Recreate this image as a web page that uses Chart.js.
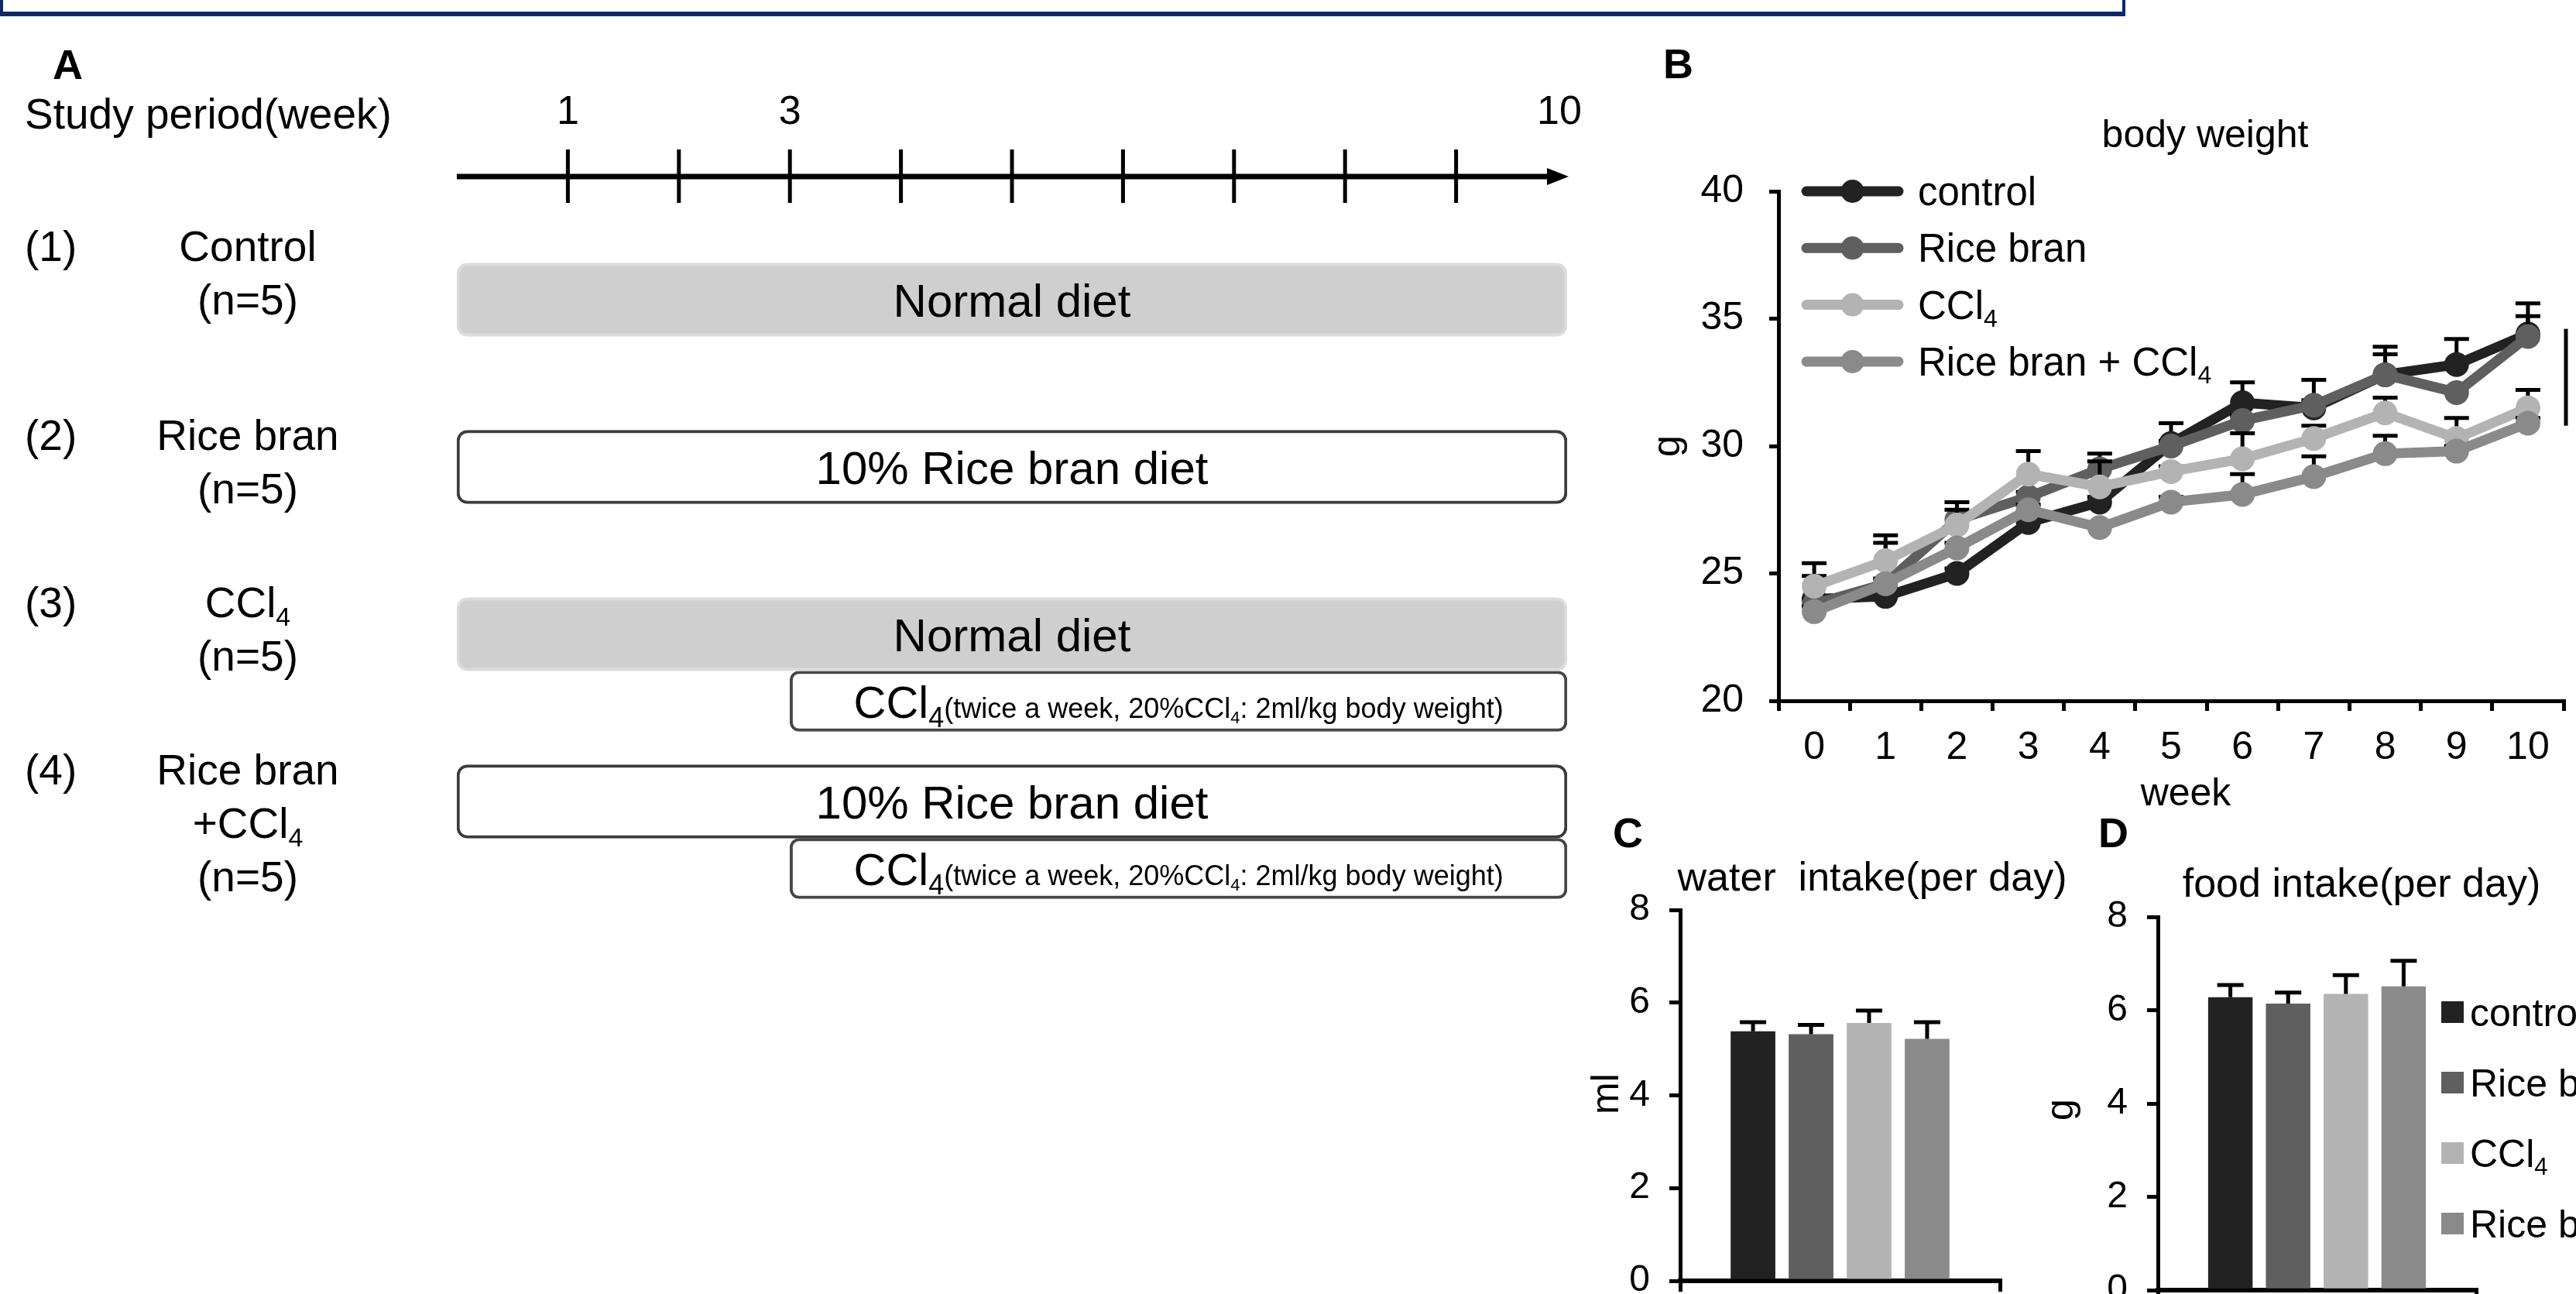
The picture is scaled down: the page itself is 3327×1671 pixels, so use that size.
<!DOCTYPE html>
<html>
<head>
<meta charset="utf-8">
<title>Study design, body weight and intake</title>
<script src="https://cdn.jsdelivr.net/npm/chart.js@4.4.1/dist/chart.umd.min.js"></script>
<style>
  html, body { margin:0; padding:0; width:3327px; height:1671px; overflow:hidden; background:#fff; }
  canvas { position:absolute; left:0; top:0; }
  #frame { position:absolute; left:0; top:-80px; width:2737px; height:91px; border:4px solid #0c2a68; border-bottom-width:6px; }
</style>
</head>
<body>
<div id="frame"></div>
<canvas id="panelA" width="3327" height="1671"></canvas>
<canvas id="panelB" width="3327" height="1671"></canvas>
<canvas id="panelC" width="3327" height="1720"></canvas>
<canvas id="panelD" width="3327" height="1720"></canvas>
<script>
const FONT = '"Liberation Sans", Arial, Helvetica, sans-serif';
Chart.defaults.font.family = FONT;

// groups, shared by B, C and D
const groups = ['control', 'Rice bran', 'CCl₄', 'Rice bran + CCl₄'];
const groupColors = ['#222222', '#5f5f5f', '#b3b3b3', '#8a8a8a'];

// A: study design (weeks)
const rowNumbers = ['(1)', '(2)', '(3)', '(4)'];
const rowNames = [['Control', '(n=5)'], ['Rice bran', '(n=5)'], ['CCl₄', '(n=5)'], ['Rice bran', '+CCl₄', '(n=5)']];
const dietLabels = ['Normal diet', '10% Rice bran diet', 'Normal diet', '10% Rice bran diet'];
const dietWeeks = [[0, 10], [0, 10], [0, 10], [0, 10]];
const ccl4Weeks = [null, null, [3, 10], [3, 10]];
const ccl4Text = 'CCl₄';
const ccl4Note = '(twice a week, 20%CCl₄: 2ml/kg body weight)';
const timelineTicks = [1, 2, 3, 4, 5, 6, 7, 8, 9];
const timelineLabelWeeks = [1, 3, 10];

// B: body weight (g)
const weeks = ['0', '1', '2', '3', '4', '5', '6', '7', '8', '9', '10'];
const bwControl      = [24.0, 24.1, 25.0, 27.0, 27.8, 30.1, 31.7, 31.5, 32.8, 33.2, 34.4];
const bwRiceBran     = [23.8, 24.6, 27.1, 28.0, 29.1, 30.0, 31.0, 31.6, 32.8, 32.1, 34.3];
const bwCCl4         = [24.5, 25.5, 26.9, 28.9, 28.4, 29.0, 29.5, 30.3, 31.3, 30.3, 31.5];
const bwRiceBranCCl4 = [23.5, 24.6, 26.0, 27.5, 26.8, 27.8, 28.1, 28.8, 29.7, 29.8, 30.9];
const bwControlErr      = [0.9, 0.2, 0.2, 0.2, 0.2, 0.8, 0.8, 1.1, 1.1, 1.0, 1.2];
const bwRiceBranErr     = [0.2, 1.6, 0.7, 0.2, 0.6, 0.2, 0.2, 0.2, 0.8, 0.2, 0.8];
const bwCCl4Err         = [0.9, 1.0, 0.6, 0.9, 1.0, 0.2, 1.0, 0.5, 0.6, 0.8, 0.7];
const bwRiceBranCCl4Err = [0.2, 0.2, 0.2, 0.2, 0.2, 0.2, 0.8, 0.8, 0.7, 0.2, 0.2];
const bwTicks = [20, 25, 30, 35, 40];
const bracket = [34.6, 30.8];

// C, D: intake per day
const waterIntake = [5.38, 5.32, 5.56, 5.22];
const waterErr    = [0.20, 0.20, 0.27, 0.36];
const foodIntake  = [6.28, 6.14, 6.35, 6.51];
const foodErr     = [0.26, 0.24, 0.40, 0.55];

const bwSeries = [bwControl, bwRiceBran, bwCCl4, bwRiceBranCCl4];
const bwErrors = [bwControlErr, bwRiceBranErr, bwCCl4Err, bwRiceBranCCl4Err];

// text helpers (₄ drawn as a small lowered 4)
function fontOf(size, bold) { return (bold ? 'bold ' : '') + size + 'px ' + FONT; }
function parts(str, size, bold) {
  return str.split(/(₄)/).filter(s => s).map(s => s === '₄'
    ? { text: '4', size: Math.round(size * 0.62), dy: Math.round(size * 0.2), bold }
    : { text: s, size, dy: 0, bold });
}
function widthOf(ctx, ps) {
  return ps.reduce((w, p) => { ctx.font = fontOf(p.size, p.bold); return w + ctx.measureText(p.text).width; }, 0);
}
function drawParts(ctx, ps, x, y, align) {
  let cx = x;
  const w = widthOf(ctx, ps);
  if (align === 'center') cx -= w / 2;
  else if (align === 'right') cx -= w;
  ctx.textAlign = 'left';
  ctx.textBaseline = 'alphabetic';
  ps.forEach(p => {
    ctx.font = fontOf(p.size, p.bold);
    ctx.fillText(p.text, cx, y + p.dy);
    cx += ctx.measureText(p.text).width;
  });
}
function drawText(ctx, str, x, y, size, align, bold) {
  ctx.save();
  ctx.fillStyle = '#000';
  drawParts(ctx, parts(str, size, bold), x, y, align || 'left');
  ctx.restore();
}
function drawRotated(ctx, str, cx, cy, size) {
  ctx.save();
  ctx.fillStyle = '#000';
  ctx.font = fontOf(size);
  ctx.translate(cx, cy);
  ctx.rotate(-Math.PI / 2);
  const m = ctx.measureText(str);
  ctx.textAlign = 'center';
  ctx.textBaseline = 'alphabetic';
  ctx.fillText(str, 0, (m.actualBoundingBoxAscent - m.actualBoundingBoxDescent) / 2);
  ctx.restore();
}

// ---------- A ----------
const rowLabelShift = [-28, 0, 0, 0];

const panelAPlugin = {
  id: 'panelA',
  afterDraw(chart) {
    const ctx = chart.ctx, x = chart.scales.x;
    ctx.save();
    const y0 = 228, x0 = x.getPixelForValue(0), x1 = x.getPixelForValue(10);
    ctx.strokeStyle = '#000';
    ctx.fillStyle = '#000';
    ctx.lineWidth = 7;
    ctx.beginPath(); ctx.moveTo(x0, y0); ctx.lineTo(x1 - 20, y0); ctx.stroke();
    ctx.beginPath(); ctx.moveTo(x1 + 2, y0); ctx.lineTo(x1 - 26, y0 - 11); ctx.lineTo(x1 - 26, y0 + 11); ctx.closePath(); ctx.fill();
    ctx.lineWidth = 5;
    timelineTicks.forEach(w => {
      const px = x.getPixelForValue(w);
      ctx.beginPath(); ctx.moveTo(px, y0 - 35); ctx.lineTo(px, y0 + 34); ctx.stroke();
    });
    ctx.restore();
    timelineLabelWeeks.forEach(w => drawText(ctx, String(w), x.getPixelForValue(w) - (w === 10 ? 10 : 0), 160, 52, 'center'));

    drawText(ctx, 'A', 68, 102, 54, 'left', true);
    drawText(ctx, 'Study period(week)', 32, 166, 55);

    chart.getDatasetMeta(0).data.forEach((bar, i) => {
      const cx = (bar.x + bar.base) / 2;
      drawText(ctx, dietLabels[i], cx, bar.y + 22, 60, 'center');
      const yb = bar.y - 22 + rowLabelShift[i];
      drawText(ctx, rowNumbers[i], 32, yb, 55);
      rowNames[i].forEach((line, k) => drawText(ctx, line, 320, yb + k * 69, 55, 'center'));
    });
    chart.getDatasetMeta(1).data.forEach((bar, i) => {
      if (ccl4Weeks[i] == null) return;
      const cx = (bar.x + bar.base) / 2;
      ctx.save();
      ctx.fillStyle = '#000';
      drawParts(ctx, parts(ccl4Text, 58).concat(parts(ccl4Note, 36)), cx, bar.y + 21, 'center');
      ctx.restore();
    });
  }
};

new Chart(document.getElementById('panelA'), {
  type: 'bar',
  data: {
    labels: rowNumbers,
    datasets: [
      {
        label: 'diet',
        data: dietWeeks,
        backgroundColor: c => dietLabels[c.dataIndex].startsWith('Normal') ? '#d0cfd0' : '#ffffff',
        borderColor: c => dietLabels[c.dataIndex].startsWith('Normal') ? '#dcdcdc' : '#3c3c3c',
        borderWidth: 4, borderRadius: 14, borderSkipped: false, barThickness: 95
      },
      {
        label: 'CCl4',
        data: ccl4Weeks,
        backgroundColor: '#ffffff', borderColor: '#464646',
        borderWidth: 4, borderRadius: 12, borderSkipped: false, barThickness: 78
      }
    ]
  },
  options: {
    indexAxis: 'y',
    responsive: false,
    animation: false,
    layout: { padding: { left: 590, right: 3327 - 2024, top: 326.5, bottom: 1671 - 1190.5 } },
    plugins: { legend: { display: false }, tooltip: { enabled: false } },
    scales: {
      x: { display: false, min: 0, max: 10 },
      y: { display: false }
    }
  },
  plugins: [panelAPlugin]
});

// ---------- B ----------
const axisFont = { family: FONT, size: 50 };

const panelBPlugin = {
  id: 'panelB',
  beforeDatasetDraw(chart, args) {
    const i = args.index, y = chart.scales.y, ctx = chart.ctx;
    ctx.save();
    ctx.strokeStyle = '#000';
    ctx.lineWidth = 5;
    args.meta.data.forEach((pt, k) => {
      const top = y.getPixelForValue(bwSeries[i][k] + bwErrors[i][k]);
      ctx.beginPath();
      ctx.moveTo(pt.x, pt.y); ctx.lineTo(pt.x, top);
      ctx.moveTo(pt.x - 16, top); ctx.lineTo(pt.x + 16, top);
      ctx.stroke();
    });
    ctx.restore();
  },
  afterDraw(chart) {
    const ctx = chart.ctx, a = chart.chartArea, y = chart.scales.y;
    // legend
    chart.data.datasets.forEach((ds, i) => {
      const ly = a.top + i * 73.3, lx = a.left + 30;
      ctx.save();
      ctx.strokeStyle = ds.borderColor;
      ctx.lineWidth = 13;
      ctx.lineCap = 'round';
      ctx.beginPath(); ctx.moveTo(lx + 6, ly); ctx.lineTo(lx + 125, ly); ctx.stroke();
      ctx.fillStyle = ds.borderColor;
      ctx.beginPath(); ctx.arc(lx + 65.5, ly, 15, 0, Math.PI * 2); ctx.fill();
      ctx.restore();
      drawText(ctx, ds.label, lx + 150, ly + 18, 51);
    });
    // significance bracket at the right edge
    ctx.save();
    ctx.strokeStyle = '#000';
    ctx.lineWidth = 5;
    ctx.beginPath();
    ctx.moveTo(a.right + 3, y.getPixelForValue(bracket[0]));
    ctx.lineTo(a.right + 3, y.getPixelForValue(bracket[1]));
    ctx.stroke();
    ctx.restore();
    drawText(ctx, 'B', 2148, 101, 54, 'left', true);
    drawText(ctx, 'body weight', 2848, 190, 50, 'center');
    drawText(ctx, 'week', 2823, 1040, 50, 'center');
    drawRotated(ctx, 'g', 2160, (a.top + a.bottom) / 2, 50);
  }
};

new Chart(document.getElementById('panelB'), {
  type: 'line',
  data: {
    labels: weeks,
    datasets: bwSeries.map((s, i) => ({
      label: groups[i],
      data: s,
      borderColor: groupColors[i],
      backgroundColor: groupColors[i],
      pointBackgroundColor: groupColors[i],
      pointBorderColor: groupColors[i],
      borderWidth: 13,
      pointRadius: 16,
      pointBorderWidth: 0,
      tension: 0,
      order: 3 - i
    }))
  },
  options: {
    responsive: false,
    animation: false,
    layout: { padding: { left: 2060, right: 15, top: 247, bottom: 500 } },
    plugins: { legend: { display: false }, tooltip: { enabled: false } },
    scales: {
      x: {
        offset: true,
        grid: { offset: true, drawOnChartArea: false, tickLength: 13, lineWidth: 5, color: '#000' },
        border: { width: 5, color: '#000' },
        ticks: { font: axisFont, color: '#000', padding: 18, maxRotation: 0, autoSkip: false },
        afterFit: s => { s.height = 1671 - 500 - 905; }
      },
      y: {
        min: 20, max: 40,
        afterBuildTicks: s => { s.ticks = bwTicks.map(v => ({ value: v })); },
        ticks: { font: axisFont, color: '#000', padding: 33 },
        grid: { drawOnChartArea: false, tickLength: 12, lineWidth: 5, color: '#000' },
        border: { width: 5, color: '#000' },
        afterFit: s => { s.width = 2297 - 2060; }
      }
    }
  },
  plugins: [panelBPlugin]
});

// ---------- C and D ----------
function errorBarPlugin(id, values, errors) {
  return {
    id,
    afterDatasetsDraw(chart) {
      const ctx = chart.ctx, y = chart.scales.y;
      ctx.save();
      ctx.strokeStyle = '#000';
      ctx.lineWidth = 5;
      chart.data.datasets.forEach((ds, i) => {
        const bar = chart.getDatasetMeta(i).data[0];
        const top = y.getPixelForValue(values[i] + errors[i]);
        ctx.beginPath();
        ctx.moveTo(bar.x, bar.y); ctx.lineTo(bar.x, top);
        ctx.moveTo(bar.x - 17, top); ctx.lineTo(bar.x + 17, top);
        ctx.stroke();
      });
      ctx.restore();
    }
  };
}

function intakeChart(id, values, errors, pad, yWidth, extra) {
  return new Chart(document.getElementById(id), {
    type: 'bar',
    data: {
      labels: [''],
      datasets: groups.map((g, i) => ({
        label: g,
        data: [values[i]],
        backgroundColor: groupColors[i],
        categoryPercentage: 0.726,
        barPercentage: 0.77
      }))
    },
    options: {
      responsive: false,
      animation: false,
      layout: { padding: pad },
      plugins: { legend: { display: false }, tooltip: { enabled: false } },
      scales: {
        x: {
          ticks: { display: false },
          grid: { offset: true, drawOnChartArea: false, tickLength: 14, lineWidth: 5, color: '#000' },
          border: { width: 6, color: '#000' },
          afterFit: s => { s.height = 17; }
        },
        y: {
          min: 0, max: 8,
          ticks: { stepSize: 2, font: { family: FONT, size: 48 }, color: '#000', padding: 25 },
          grid: { drawOnChartArea: false, tickLength: 14, lineWidth: 5, color: '#000' },
          border: { width: 5, color: '#000' },
          afterFit: s => { s.width = yWidth; }
        }
      }
    },
    plugins: [errorBarPlugin(id + 'Err', values, errors), extra]
  });
}

intakeChart('panelC', waterIntake, waterErr, { left: 1980, right: 3327 - 2583, top: 1175, bottom: 1720 - 1654 - 17 }, 190, {
  id: 'panelCText',
  afterDraw(chart) {
    const ctx = chart.ctx, a = chart.chartArea;
    drawText(ctx, 'C', 2083, 1094, 54, 'left', true);
    drawText(ctx, 'water  intake(per day)', 2418, 1150, 52, 'center');
    drawRotated(ctx, 'ml', 2072, (a.top + a.bottom) / 2 - 2, 50);
  }
});

intakeChart('panelD', foodIntake, foodErr, { left: 2600, right: 3327 - 3198, top: 1184, bottom: 1720 - 1667 - 17 }, 187, {
  id: 'panelDText',
  afterDraw(chart) {
    const ctx = chart.ctx, a = chart.chartArea;
    drawText(ctx, 'D', 2710, 1094, 54, 'left', true);
    drawText(ctx, 'food intake(per day)', 3050, 1158, 52, 'center');
    drawRotated(ctx, 'g', 2668, (a.top + a.bottom) / 2 + 8, 50);
    // legend on the right (cut by the figure edge)
    chart.data.datasets.forEach((ds, i) => {
      const cy = a.top + 123 + i * 91;
      ctx.save();
      ctx.fillStyle = ds.backgroundColor;
      ctx.fillRect(3153, cy - 14, 29, 28);
      ctx.restore();
      drawText(ctx, ds.label, 3190, cy + 18, 50);
    });
  }
});
</script>
</body>
</html>
